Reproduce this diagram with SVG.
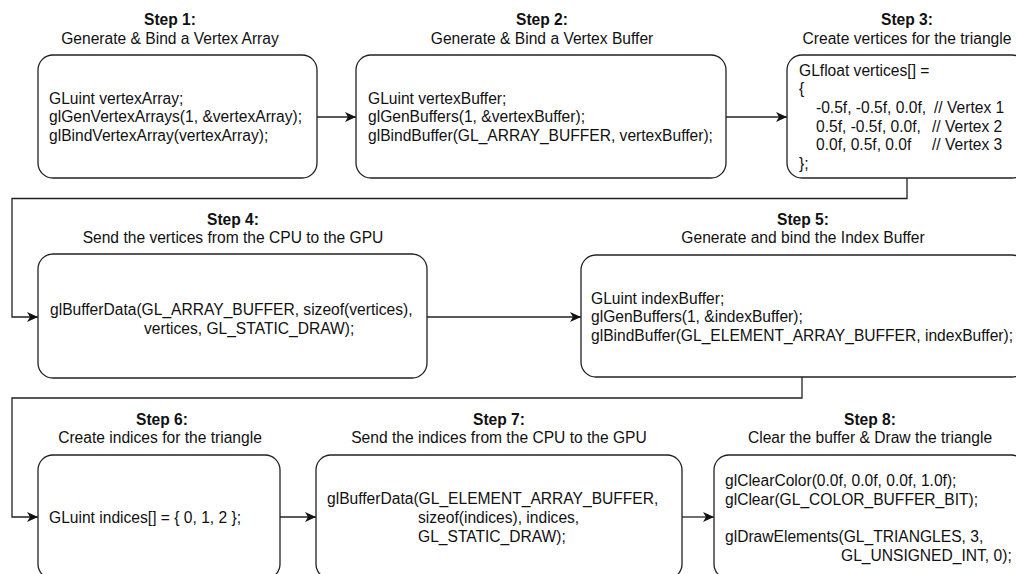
<svg xmlns="http://www.w3.org/2000/svg" width="1016" height="574" viewBox="0 0 1016 574">
  <defs>
    <marker id="arrow" markerUnits="userSpaceOnUse" markerWidth="12" markerHeight="11" refX="11" refY="5" orient="auto">
      <path d="M0,0 L11,5 L0,10 L3,5 Z" fill="#111"/>
    </marker>
    <style>
      text { font-family: "Liberation Sans", Arial, sans-serif; font-size: 15.6px; fill: #111; }
      .title { text-anchor: middle; }
      .step { font-weight: bold; }
      .box { fill: #fff; stroke: #222; stroke-width: 1.3; }
      .edge { fill: none; stroke: #222; stroke-width: 1.3; marker-end: url(#arrow); }
    </style>
  </defs>
  <rect width="1016" height="574" fill="#fff"/>

  <!-- connectors -->
  <g id="connectors">
    <path class="edge" d="M317,117 L356,117"/>
    <path class="edge" d="M726,117 L787,117"/>
    <path class="edge" d="M907,178 L907,198.5 L12,198.5 L12,317 L38,317"/>
    <path class="edge" d="M427,317 L581,317"/>
    <path class="edge" d="M802,377 L802,398 L12,398 L12,517 L38,517"/>
    <path class="edge" d="M280,517 L316,517"/>
    <path class="edge" d="M682,517 L714,517"/>
  </g>

  <!-- step 1 -->
  <g id="step1">
    <text class="title step" x="170" y="25">Step 1:</text>
    <text class="title" x="170" y="43.5">Generate &amp; Bind a Vertex Array</text>
    <rect class="box" x="38" y="55" width="279" height="123" rx="15"/>
    <text x="49" y="103.5">GLuint vertexArray;</text>
    <text x="49" y="122">glGenVertexArrays(1, &amp;vertexArray);</text>
    <text x="49" y="140.5">glBindVertexArray(vertexArray);</text>
  </g>

  <!-- step 2 -->
  <g id="step2">
    <text class="title step" x="542" y="25">Step 2:</text>
    <text class="title" x="542" y="43.5">Generate &amp; Bind a Vertex Buffer</text>
    <rect class="box" x="356" y="55" width="370" height="123" rx="15"/>
    <text x="368" y="103.5">GLuint vertexBuffer;</text>
    <text x="368" y="122">glGenBuffers(1, &amp;vertexBuffer);</text>
    <text x="368" y="140.5">glBindBuffer(GL_ARRAY_BUFFER, vertexBuffer);</text>
  </g>

  <!-- step 3 -->
  <g id="step3">
    <text class="title step" x="907" y="25">Step 3:</text>
    <text class="title" x="907" y="43.5">Create vertices for the triangle</text>
    <rect class="box" x="787" y="55" width="240" height="123" rx="15"/>
    <text x="799" y="75.5">GLfloat vertices[] =</text>
    <text x="799" y="94.2">{</text>
    <text x="816" y="112.9">-0.5f, -0.5f, 0.0f,<tspan x="934">// Vertex 1</tspan></text>
    <text x="816" y="131.6">0.5f, -0.5f, 0.0f,<tspan x="932">// Vertex 2</tspan></text>
    <text x="816" y="150.3">0.0f, 0.5f, 0.0f<tspan x="932">// Vertex 3</tspan></text>
    <text x="799" y="169">};</text>
  </g>

  <!-- step 4 -->
  <g id="step4">
    <text class="title step" x="233" y="224.5">Step 4:</text>
    <text class="title" x="233" y="243">Send the vertices from the CPU to the GPU</text>
    <rect class="box" x="38" y="254" width="389" height="124" rx="15"/>
    <text x="50" y="315">glBufferData(GL_ARRAY_BUFFER, sizeof(vertices),</text>
    <text x="144" y="334">vertices, GL_STATIC_DRAW);</text>
  </g>

  <!-- step 5 -->
  <g id="step5">
    <text class="title step" x="803" y="224.5">Step 5:</text>
    <text class="title" x="803" y="243">Generate and bind the Index Buffer</text>
    <rect class="box" x="581" y="255" width="446" height="122" rx="15"/>
    <text x="591" y="303.5">GLuint indexBuffer;</text>
    <text x="591" y="322">glGenBuffers(1, &amp;indexBuffer);</text>
    <text x="591" y="340.5">glBindBuffer(GL_ELEMENT_ARRAY_BUFFER, indexBuffer);</text>
  </g>

  <!-- step 6 -->
  <g id="step6">
    <text class="title step" x="162" y="425">Step 6:</text>
    <text class="title" x="160" y="443">Create indices for the triangle</text>
    <rect class="box" x="38" y="455" width="242" height="124" rx="15"/>
    <text x="49" y="522.5">GLuint indices[] = { 0, 1, 2 };</text>
  </g>

  <!-- step 7 -->
  <g id="step7">
    <text class="title step" x="499" y="425">Step 7:</text>
    <text class="title" x="499" y="443">Send the indices from the CPU to the GPU</text>
    <rect class="box" x="316" y="455" width="366" height="124" rx="15"/>
    <text x="327" y="504">glBufferData(GL_ELEMENT_ARRAY_BUFFER,</text>
    <text x="418" y="523">sizeof(indices), indices,</text>
    <text x="418" y="542">GL_STATIC_DRAW);</text>
  </g>

  <!-- step 8 -->
  <g id="step8">
    <text class="title step" x="870" y="425">Step 8:</text>
    <text class="title" x="870" y="443">Clear the buffer &amp; Draw the triangle</text>
    <rect class="box" x="714" y="455" width="312" height="124" rx="15"/>
    <text x="725" y="486">glClearColor(0.0f, 0.0f, 0.0f, 1.0f);</text>
    <text x="725" y="504.7">glClear(GL_COLOR_BUFFER_BIT);</text>
    <text x="725" y="542.1">glDrawElements(GL_TRIANGLES, 3,</text>
    <text x="841" y="560.8">GL_UNSIGNED_INT, 0);</text>
  </g>
</svg>
